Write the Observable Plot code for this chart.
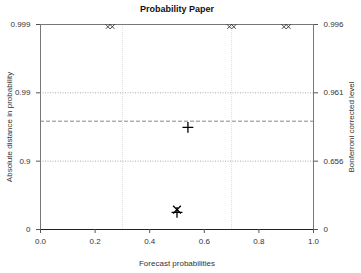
<!DOCTYPE html>
<html>
<head>
<meta charset="utf-8">
<script src="https://cdn.jsdelivr.net/npm/d3@7"></script>
<script src="https://cdn.jsdelivr.net/npm/@observablehq/plot@0.6"></script>
<style>
  html, body { margin: 0; padding: 0; background: #fff; }
</style>
</head>
<body>
<div id="chart"></div>
<script>
// ---- data (probabilities) ----
const title = "Probability Paper";
const xLabel = "Forecast probabilities";
const yLabelLeft = "Absolute distance in probability";
const yLabelRight = "Bonferroni corrected level";
const xTicks = [0, 0.2, 0.4, 0.6, 0.8, 1.0];
const leftTickValues = [0, 0.9, 0.99, 0.999];
const rightTickLabels = ["0", "0.656", "0.961", "0.996"];
const gridX = [0.3, 0.7];
const gridP = [0.9, 0.99];
const bonferroniP = 0.974;

// markers at the top edge (clipped): forecast probability, distance
const topX = [0.255, 0.70, 0.90];
const topP = [0.999, 0.999, 0.999];
// other markers
const pointX    = [0.54, 0.50, 0.50];
const pointP    = [0.968, 0.487, 0.438];
const pointSym  = ["plus", "times", "plus"];

const toY = p => -Math.log10(1 - p);
const topPoints = topX.flatMap((x, i) => [
  {x, y: toY(topP[i]), s: "times"},
  {x, y: toY(topP[i]), s: "diamond2"}
]);
const points = pointX.map((x, i) => ({x, y: toY(pointP[i]), s: pointSym[i]}));
const yTicks = leftTickValues.map(toY);

const chart = Plot.plot({
  width: 361,
  height: 273,
  marginTop: 24,
  marginBottom: 44,
  marginLeft: 40,
  marginRight: 48,
  style: {fontFamily: "Liberation Sans, Arial, sans-serif", fontSize: "8px", color: "#333", background: "#fff"},
  x: {domain: [0, 1]},
  y: {domain: [0, 3]},
  symbol: {type: "identity"},
  marks: [
    Plot.ruleX(gridX, {stroke: "#ddd", strokeDasharray: "1,1"}),
    Plot.ruleY(gridP.map(toY), {stroke: "#aaa", strokeDasharray: "1,1.5"}),
    Plot.ruleY([toY(bonferroniP)], {stroke: "#888", strokeDasharray: "4,2"}),
    Plot.frame({stroke: "#777"}),
    Plot.ruleY([0], {stroke: "#222"}),
    Plot.axisX({ticks: xTicks, tickFormat: d3.format(".1f"), tickSize: 4, tickPadding: 5, stroke: "#555",
      label: xLabel, labelAnchor: "center", labelArrow: "none", labelOffset: 36}),
    Plot.axisY({anchor: "left", ticks: yTicks, tickFormat: (d, i) => String(leftTickValues[i]), tickSize: 4, tickPadding: 6, stroke: "#555",
      label: yLabelLeft, labelAnchor: "center", labelArrow: "none", labelOffset: 34}),
    Plot.axisY({anchor: "right", ticks: yTicks, tickFormat: (d, i) => rightTickLabels[i], tickSize: 4, tickPadding: 6, stroke: "#555",
      label: yLabelRight, labelAnchor: "center", labelArrow: "none", labelOffset: 40}),
    Plot.dot(topPoints, {x: "x", y: "y", symbol: "s", r: 4, stroke: "#333", strokeWidth: 0.9, fill: "none", clip: true}),
    Plot.dot(points, {x: "x", y: "y", symbol: "s", r: 3.6, stroke: "#000", strokeWidth: 1.3, fill: "none", clip: true}),
    Plot.text([title], {frameAnchor: "top", dy: -19, fontWeight: "bold", fontSize: 9, fill: "#111"})
  ]
});
document.getElementById("chart").appendChild(chart);
</script>
</body>
</html>
